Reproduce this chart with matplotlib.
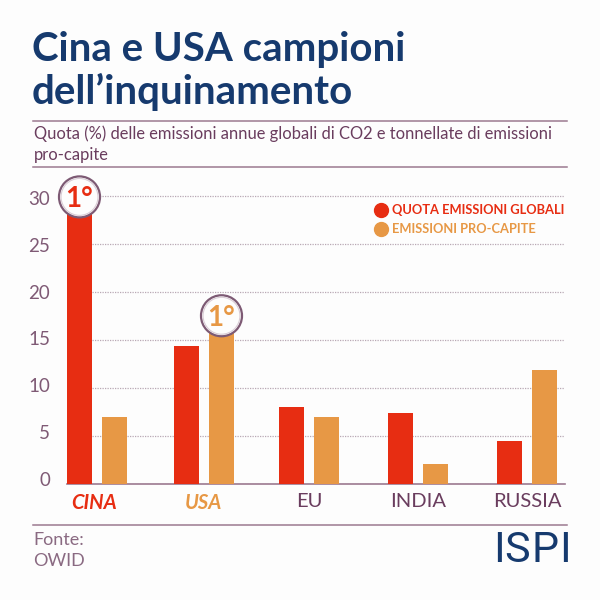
import matplotlib

matplotlib.use("Agg")

import matplotlib.pyplot as plt  # noqa: E402
from matplotlib.lines import Line2D  # noqa: E402
from matplotlib.patches import Ellipse  # noqa: E402
from matplotlib.transforms import ScaledTranslation  # noqa: E402

categories = ["CINA", "USA", "EU", "INDIA", "RUSSIA"]
quota_globale = [30, 14.3, 8.0, 7.4, 4.4]
pro_capite = [6.9, 16, 6.9, 2.0, 11.8]
y_ticks = [0, 5, 10, 15, 20, 25, 30]

RED = "#e72d12"
ORANGE = "#e79845"
PLUM = "#6a3d5e"
RULE = "#9c7a90"
RING = "#7d5a74"
NAVY = "#163a6e"
BG = "#fdfdfd"
FONT = "Lato"

W = H = 600
# groups in the original are not quite evenly spaced (pixels)
GROUP_NUDGE = [0, -0.5, -3, -1.5, 0]


def px(x, y):
    return x / W, 1 - y / H


def main() -> None:
    plt.rcParams["font.family"] = FONT
    fig = plt.figure(figsize=(6, 6), dpi=100, facecolor=BG)

    # axes box in pixels: x 67-565, y 176-483.5
    left, bottom = px(67, 483.5)
    ax = fig.add_axes([left, bottom, 498 / W, 307.5 / H], facecolor="none")
    ax.set_ylim(0, 307.5 / 9.585)
    ax.set_xlim(-30 / 107.5, 468 / 107.5)

    x = [i + n / 107.5 for i, n in enumerate(GROUP_NUDGE)]
    width = 25 / 107.5
    off = 17.5 / 107.5
    ax.bar([i - off for i in x], quota_globale, width, color=RED, zorder=3)
    ax.bar([i + off for i in x], pro_capite, width, color=ORANGE, zorder=3)

    for s in ["top", "left", "right"]:
        ax.spines[s].set_visible(False)
    ax.spines["bottom"].set_color(RULE)
    ax.spines["bottom"].set_linewidth(1.2)

    ax.set_yticks(y_ticks)
    ax.set_yticklabels(y_ticks, fontsize=13.5, color="#7f5a75")
    ax.tick_params(axis="y", length=0, pad=12)
    ax.yaxis.grid(True, color="#b9a8b4", linestyle=(0, (1, 1)), linewidth=0.9, zorder=1)
    ax.set_axisbelow(True)
    # the labels sit a little off their gridlines in the original
    for v, lab in zip(y_ticks, ax.get_yticklabels()):
        shift = (4.5 - 6.5 * v / 30) / 100
        lab.set_transform(lab.get_transform() + ScaledTranslation(0, shift, fig.dpi_scale_trans))

    ax.set_xticks(x)
    ax.set_xticklabels(categories, fontsize=14.5, color=PLUM)
    ax.tick_params(axis="x", length=0, pad=7)
    labels = ax.get_xticklabels()
    for lab, col in ((labels[0], RED), (labels[1], ORANGE)):
        lab.set_color(col)
        lab.set_fontweight("bold")
        lab.set_fontstyle("italic")
    labels[0].set_transform(labels[0].get_transform() + ScaledTranslation(-0.03, 0, fig.dpi_scale_trans))

    # circles marking first place, anchored to the bars
    xr = 20.5 / 107.5
    yr = 20.5 / 9.585
    badges = ((x[0] - off, quota_globale[0] - 0.1, RED), (x[1] + off, pro_capite[1] + 1.5, ORANGE))
    for bx, by, col in badges:
        ax.add_patch(Ellipse((bx, by), 2 * xr, 2 * yr, fc=BG, ec=RING, lw=1.6, zorder=5, clip_on=False))
        ax.add_patch(Ellipse((bx, by), 2 * xr * 0.9, 2 * yr * 0.9, fc=BG, ec="#d9ccd5", lw=0.8, zorder=5, clip_on=False))
        ax.text(bx, by, "1°", color=col, fontsize=20, fontweight="bold",
                ha="center", va="center_baseline", zorder=6)

    def ftext(xp, yp, s, **kw):
        fx, fy = px(xp, yp)
        fig.text(fx, fy, s, **kw)

    ftext(32, 50, "Cina e USA campioni", fontsize=29, fontweight="bold", color=NAVY, va="center")
    ftext(32, 92, "dell’inquinamento", fontsize=29, fontweight="bold", color=NAVY, va="center")
    ftext(34, 134, "Quota (%) delle emissioni annue globali di CO2 e tonnellate di emissioni",
          fontsize=11.9, color=PLUM, va="center")
    ftext(34, 155, "pro-capite", fontsize=11.9, color=PLUM, va="center")
    ftext(33, 540, "Fonte:", fontsize=13, color="#8a6a82", va="center")
    ftext(33, 561, "OWID", fontsize=13, color="#8a6a82", va="center")

    for yp in (121, 167, 525):
        xs = [33 / W, 567 / W]
        ys = [1 - yp / H] * 2
        fig.add_artist(Line2D(xs, ys, color=RULE, lw=1.1))

    # legend
    for yp, col, s in ((210, RED, "QUOTA EMISSIONI GLOBALI"), (229, ORANGE, "EMISSIONI PRO-CAPITE")):
        fx, fy = px(381, yp)
        fig.add_artist(Line2D([fx], [fy], marker="o", ms=10, color=col, mec=col, lw=0))
        ftext(392, yp, s, fontsize=9.3, fontweight="bold", color=col, va="center")

    # logo
    for xp, s in ((499, "I"), (517.5, "S"), (545, "P"), (564.5, "I")):
        ftext(xp, 551, s, fontsize=31, color=NAVY, va="center", ha="center", family="Roboto")

    fig.savefig("out.png", dpi=100, facecolor=BG)
    plt.close(fig)


if __name__ == "__main__":
    main()
